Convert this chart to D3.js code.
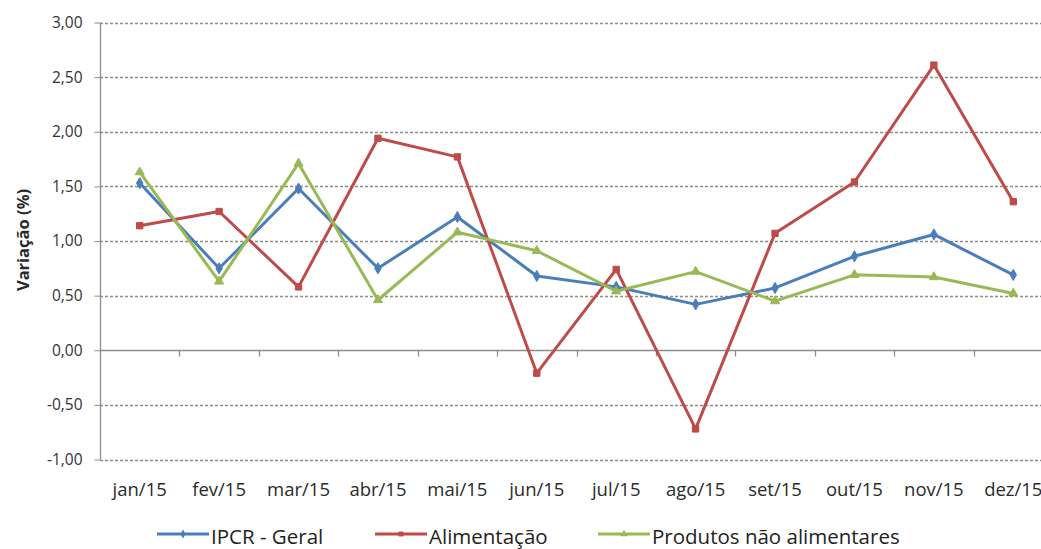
<!DOCTYPE html>
<html><head><meta charset="utf-8">
<script src="https://cdn.jsdelivr.net/npm/d3@7"></script>
<style>
html,body{margin:0;padding:0;background:#fff;overflow:hidden;}
svg{display:block;}
</style></head>
<body>
<svg id="chart" width="1041" height="549"></svg>
<script>
const categories = ["jan/15","fev/15","mar/15","abr/15","mai/15","jun/15","jul/15","ago/15","set/15","out/15","nov/15","dez/15"];
const ipcrGeral = [1.53,0.75,1.48,0.75,1.22,0.68,0.58,0.42,0.57,0.86,1.06,0.69];
const alimentacao = [1.14,1.27,0.58,1.94,1.77,-0.21,0.74,-0.72,1.07,1.54,2.61,1.36];
const naoAlimentares = [1.63,0.63,1.71,0.46,1.08,0.91,0.54,0.72,0.45,0.69,0.67,0.52];
const yTicks = [-1,-0.5,0,0.5,1,1.5,2,2.5,3];
const seriesNames = ["IPCR - Geral","Alimentação","Produtos não alimentares"];

const series = [
  {name: seriesNames[0], values: ipcrGeral, color: "#4a7ebb", marker: d3.symbolDiamond, msize: 36},
  {name: seriesNames[1], values: alimentacao, color: "#be4b48", marker: d3.symbolSquare, msize: 40},
  {name: seriesNames[2], values: naoAlimentares, color: "#98b954", marker: d3.symbolTriangle, msize: 36}
];

const svg = d3.select("#chart");
const pLeft = 100, pRight = 1053, pTop = 22.5, pBottom = 459.5;
const x = d3.scaleBand().domain(categories).range([pLeft, pRight]);
const y = d3.scaleLinear().domain([-1, 3]).range([pBottom, pTop]);
const loc = d3.formatLocale({decimal: ",", thousands: ".", grouping: [3], currency: ["", ""], minus: "-"});
const fmt = loc.format(".2f");
const font = "'Open Sans','Noto Sans',Arial,sans-serif";

// gridlines
svg.append("g").selectAll("line").data(yTicks.filter(d => d !== 0)).join("line")
  .attr("x1", pLeft).attr("x2", pRight)
  .attr("y1", d => Math.round(y(d)) + 0.5).attr("y2", d => Math.round(y(d)) + 0.5)
  .attr("stroke", "#8c8c8c").attr("stroke-width", 1.3).attr("stroke-dasharray", "3,2");

// y axis
const yAxis = d3.axisLeft(y).tickValues(yTicks).tickFormat(fmt).tickSize(6).tickPadding(12);
const gy = svg.append("g").attr("transform", `translate(${pLeft + 0.5},0)`).call(yAxis);
gy.select(".domain").attr("stroke", "#8c8c8c").attr("stroke-width", 1.3).attr("d", `M0,${pTop}V${pBottom}`);
gy.selectAll(".tick line").attr("stroke", "#8c8c8c");
gy.selectAll(".tick text").attr("fill", "#333").style("font-family", font).style("font-size", "15.5px");

// x axis on zero line
const xAxis = d3.axisBottom(x).tickSize(0).tickFormat(() => "");
const gx = svg.append("g").attr("transform", `translate(0,${Math.round(y(0)) + 0.5})`).call(xAxis);
gx.select(".domain").attr("stroke", "#8c8c8c").attr("stroke-width", 1.3).attr("d", `M${pLeft},0H${pRight}`);
gx.selectAll(".tick").remove();
gx.selectAll("line.minor").data(categories.slice(1)).join("line").attr("class","minor")
  .attr("x1", d => Math.round(x(d)) + 0.5).attr("x2", d => Math.round(x(d)) + 0.5)
  .attr("y1", 0).attr("y2", 6).attr("stroke", "#8c8c8c").attr("stroke-width", 1.3);

// category labels
svg.append("g").selectAll("text").data(categories).join("text")
  .attr("x", d => x(d) + x.bandwidth() / 2).attr("y", 496)
  .attr("text-anchor", "middle").attr("fill", "#2a2a2a")
  .style("font-family", font).style("font-size", "18.5px").text(d => d);

// y title
svg.append("text").attr("transform", `translate(29,240) rotate(-90)`)
  .attr("text-anchor", "middle").attr("fill", "#2a2a2a").attr("font-weight", "bold")
  .style("font-family", font).style("font-size", "16.5px").text("Variação (%)");

// lines
const line = d3.line().x((d, i) => x(categories[i]) + x.bandwidth() / 2).y(d => y(d));
series.forEach(s => {
  svg.append("path").datum(s.values).attr("d", line)
    .attr("fill", "none").attr("stroke", s.color).attr("stroke-width", 3).attr("stroke-linejoin", "round");
  svg.append("g").selectAll("path").data(s.values).join("path")
    .attr("d", d3.symbol().type(s.marker).size(s.msize))
    .attr("transform", (d, i) => `translate(${x(categories[i]) + x.bandwidth() / 2},${y(d)})`)
    .attr("fill", s.color).attr("stroke", s.color).attr("stroke-width", 1);
});

// legend
const legX = [157, 375, 598];
const lg = svg.append("g");
series.forEach((s, i) => {
  const g = lg.append("g").attr("transform", `translate(${legX[i]},534)`);
  g.append("line").attr("x1", 0).attr("x2", 52).attr("stroke", s.color).attr("stroke-width", 3);
  g.append("path").attr("d", d3.symbol().type(s.marker).size(24)).attr("transform", "translate(26,0)").attr("fill", s.color);
  g.append("text").attr("x", 54).attr("y", 10).attr("fill", "#222")
    .style("font-family", font).style("font-size", "20.5px").text(s.name);
});
</script>
</body></html>
